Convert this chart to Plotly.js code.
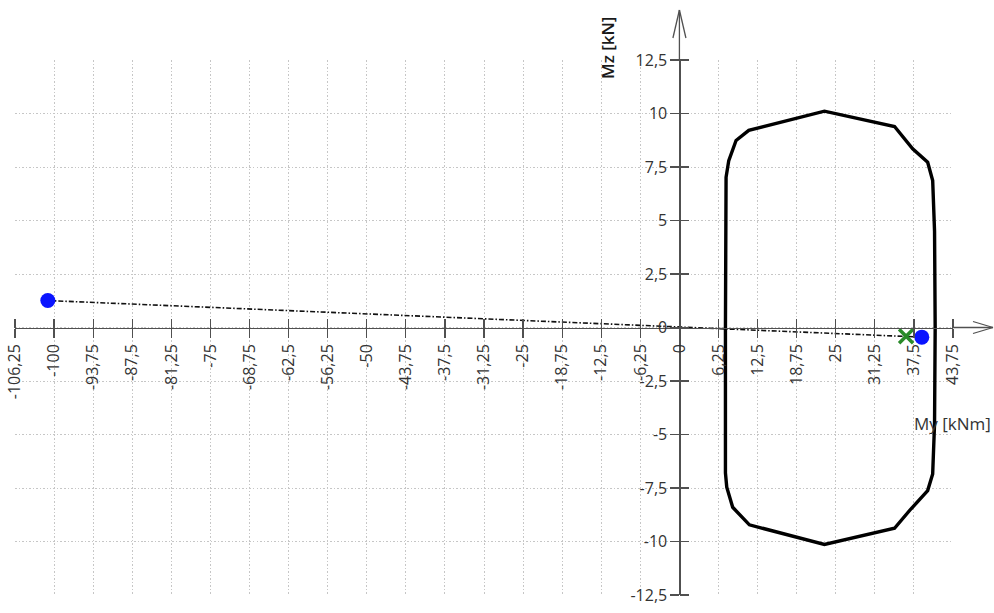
<!DOCTYPE html>
<html>
<head>
<meta charset="utf-8">
<script src="https://cdn.plot.ly/plotly-3.0.1.min.js"></script>
<style>html,body{margin:0;padding:0;background:#fff;}#chart{width:994px;height:613px;}</style>
</head>
<body>
<div id="chart"></div>
<script>
// Interaction diagram (closed polygon)
var curveMy = [7.36, 7.46, 7.89, 9.06, 11.09, 23.19, 34.4, 37.3, 39.7, 40.5, 40.8, 40.9, 40.8, 40.5, 39.7, 37.05, 34.4, 23.19, 11.19, 8.52, 7.57, 7.36, 7.36];
var curveMz = [0, 7.02, 7.80, 8.74, 9.21, 10.11, 9.39, 8.35, 7.72, 6.87, 4.5, 0, -4.5, -6.84, -7.62, -8.47, -9.38, -10.14, -9.22, -8.40, -7.46, -6.8, 0];
// Load points
var pointsMy = [-101.0, 38.76];
var pointsMz = [1.26, -0.45];
// Design point
var designMy = [36.25];
var designMz = [-0.41];
// Ticks
var xTickVals = [-106.25, -100, -93.75, -87.5, -81.25, -75, -68.75, -62.5, -56.25, -50, -43.75, -37.5, -31.25, -25, -18.75, -12.5, -6.25, 0, 6.25, 12.5, 18.75, 25, 31.25, 37.5, 43.75];
var xTickText = ["-106,25", "-100", "-93,75", "-87,5", "-81,25", "-75", "-68,75", "-62,5", "-56,25", "-50", "-43,75", "-37,5", "-31,25", "-25", "-18,75", "-12,5", "-6,25", "0", "6,25", "12,5", "18,75", "25", "31,25", "37,5", "43,75"];
var yTickVals = [-12.5, -10, -7.5, -5, -2.5, 0, 2.5, 5, 7.5, 10, 12.5];
var yTickText = ["-12,5", "-10", "-7,5", "-5", "-2,5", "0", "2,5", "5", "7,5", "10", "12,5"];
var xTitle = "My [kNm]";
var yTitle = "Mz [kN]";

var xRange = [xTickVals[0], xTickVals[xTickVals.length - 1]];
var yRange = [yTickVals[0], yTickVals[yTickVals.length - 1]];
var yAxisPos = (0 - xRange[0]) / (xRange[1] - xRange[0]);
var xAxisPos = (0 - yRange[0]) / (yRange[1] - yRange[0]);

var axisCol = '#505050';
var font = 'Open Sans, Noto Sans, sans-serif';

var traces = [
  {x: curveMy, y: curveMz, mode: 'lines', line: {color: '#000', width: 3.4}, hoverinfo: 'skip', cliponaxis: false},
  {x: pointsMy, y: pointsMz, mode: 'lines', line: {color: '#111', width: 1.6, dash: '5px,2px,1.5px,2px'}, hoverinfo: 'skip'},
  {x: pointsMy, y: pointsMz, mode: 'markers', marker: {color: '#0a14ff', size: 15}, hoverinfo: 'skip', cliponaxis: false},
  {x: designMy, y: designMz, mode: 'markers', marker: {symbol: 'x-thin', size: 14, line: {color: '#2a8a2a', width: 3.5}}, hoverinfo: 'skip', cliponaxis: false},
  {x: [null], y: [null], xaxis: 'x2', yaxis: 'y2', mode: 'markers', hoverinfo: 'skip'}
];

var W = 994, H = 613, mL = 15, mR = 41, mT = 60, mB = 18;
var pw = W - mL - mR, ph = H - mT - mB;
function px(p) { return (p - mL) / pw; }
function py(p) { return (H - mB - p) / ph; }

var shapes = [
  // x axis extension + arrow
  {type: 'line', xref: 'paper', yref: 'paper', x0: 0.999, x1: px(993), y0: xAxisPos, y1: xAxisPos, line: {color: axisCol, width: 1.3}},
  {type: 'line', xref: 'paper', yref: 'paper', x0: px(973), x1: px(993), y0: xAxisPos + 6 / ph, y1: xAxisPos, line: {color: axisCol, width: 1.3}},
  {type: 'line', xref: 'paper', yref: 'paper', x0: px(973), x1: px(993), y0: xAxisPos - 6 / ph, y1: xAxisPos, line: {color: axisCol, width: 1.3}},
  // y axis extension + arrow
  {type: 'line', xref: 'paper', yref: 'paper', x0: yAxisPos, x1: yAxisPos, y0: 0.999, y1: py(10), line: {color: axisCol, width: 1.3}},
  {type: 'line', xref: 'paper', yref: 'paper', x0: yAxisPos - 6.5 / pw, x1: yAxisPos, y0: py(38), y1: py(10), line: {color: axisCol, width: 1.3}},
  {type: 'line', xref: 'paper', yref: 'paper', x0: yAxisPos + 6.5 / pw, x1: yAxisPos, y0: py(38), y1: py(10), line: {color: axisCol, width: 1.3}}
];

var annotations = [
  {text: yTitle, xref: 'paper', yref: 'paper', x: px(608), y: py(48), textangle: -90, showarrow: false, xanchor: 'center', yanchor: 'middle', font: {family: font, size: 17, color: '#1a1a1a', weight: 600}},
  {text: xTitle, xref: 'paper', yref: 'paper', x: px(993), y: py(424), showarrow: false, xanchor: 'right', yanchor: 'middle', font: {family: font, size: 17, color: '#333'}}
];

var common = {
  tickmode: 'array', ticks: 'outside', ticklen: 9, tickwidth: 1.3, tickcolor: axisCol,
  zeroline: false, fixedrange: true
};

var layout = {
  width: W, height: H,
  margin: {l: mL, r: mR, t: mT, b: mB, pad: 0},
  paper_bgcolor: '#fff', plot_bgcolor: '#fff',
  showlegend: false,
  separators: ', ',
  font: {family: font, color: '#333'},
  xaxis: Object.assign({}, common, {
    range: xRange, tickvals: xTickVals, ticktext: xTickText, tickangle: -90,
    anchor: 'free', position: xAxisPos, side: 'bottom',
    showgrid: true, gridcolor: '#c6c6c6', griddash: '1.5px,2px', gridwidth: 1,
    showline: true, linecolor: axisCol, linewidth: 1.3,
    tickfont: {family: font, size: 16, color: '#333'}
  }),
  yaxis: Object.assign({}, common, {
    range: yRange, tickvals: yTickVals, ticktext: yTickText,
    anchor: 'free', position: yAxisPos, side: 'left',
    showgrid: true, gridcolor: '#c6c6c6', griddash: '1.5px,2px', gridwidth: 1,
    showline: true, linecolor: axisCol, linewidth: 1.3,
    tickfont: {family: font, size: 16, color: '#333'}
  }),
  xaxis2: Object.assign({}, common, {
    range: xRange, tickvals: xTickVals, overlaying: 'x', anchor: 'free', position: xAxisPos, side: 'top',
    showgrid: false, showline: false, showticklabels: false
  }),
  yaxis2: Object.assign({}, common, {
    range: yRange, tickvals: yTickVals, overlaying: 'y', anchor: 'free', position: yAxisPos, side: 'right',
    showgrid: false, showline: false, showticklabels: false
  }),
  shapes: shapes,
  annotations: annotations
};

Plotly.newPlot('chart', traces, layout, {staticPlot: true, displayModeBar: false});
</script>
</body>
</html>
